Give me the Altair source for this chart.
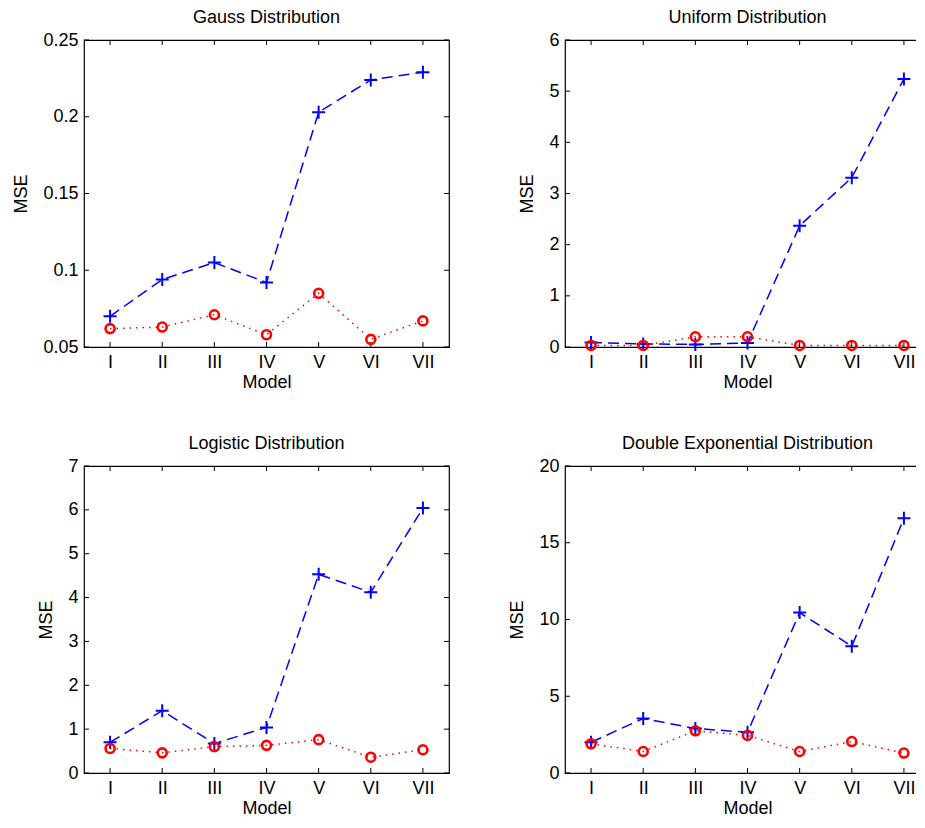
import altair as alt
import pandas as pd

models = ["I", "II", "III", "IV", "V", "VI", "VII"]

gauss_plus = [0.070, 0.094, 0.105, 0.092, 0.203, 0.224, 0.229]
gauss_circ = [0.062, 0.063, 0.071, 0.058, 0.085, 0.055, 0.067]

unif_plus = [0.09, 0.06, 0.05, 0.08, 2.37, 3.31, 5.24]
unif_circ = [0.03, 0.03, 0.20, 0.20, 0.03, 0.03, 0.03]

logis_plus = [0.70, 1.42, 0.67, 1.04, 4.53, 4.12, 6.04]
logis_circ = [0.56, 0.46, 0.60, 0.63, 0.76, 0.36, 0.53]

dexp_plus = [2.0, 3.55, 2.9, 2.65, 10.45, 8.25, 16.6]
dexp_circ = [1.9, 1.4, 2.75, 2.45, 1.4, 2.05, 1.3]

gauss_ticks = [0.05, 0.1, 0.15, 0.2, 0.25]
unif_ticks = [0, 1, 2, 3, 4, 5, 6]
logis_ticks = [0, 1, 2, 3, 4, 5, 6, 7]
dexp_ticks = [0, 5, 10, 15, 20]

W, H = 365, 307
FONT = "Liberation Sans"
PLUS = "M-1,0L1,0M0,-1L0,1"
TL = 5
FS = 18


def panel(title, plus, circ, yticks, fmt):
    idx = list(range(1, len(models) + 1))
    df = pd.DataFrame({"x": idx, "model": models, "plus": plus, "circ": circ})
    ydf = pd.DataFrame({"v": yticks})
    xdf = pd.DataFrame({"x": idx})
    xscale = alt.Scale(domain=[0.5, len(models) + 0.5], nice=False, zero=False)
    yscale = alt.Scale(domain=[yticks[0], yticks[-1]], nice=False, zero=False)
    roman = "[" + ",".join("'%s'" % m for m in models) + "][datum.value - 1]"
    xaxis = alt.Axis(values=idx, labelExpr=roman, title="Model", ticks=False,
                     domain=False, grid=False, labelPadding=6, titlePadding=2)
    yaxis = alt.Axis(values=yticks, format=fmt, title="MSE", ticks=False,
                     domain=False, grid=False, labelPadding=6, titlePadding=12)

    def X(f):
        return alt.X(f, scale=xscale, axis=xaxis)

    def Y(f):
        return alt.Y(f, scale=yscale, axis=yaxis)

    base = alt.Chart(df)
    line_b = base.mark_line(color="#0000ff", strokeWidth=1.5, strokeDash=[11, 6]).encode(
        x=X("x:Q"), y=Y("plus:Q"))
    pt_b = base.mark_point(shape=PLUS, color="#0000ff", size=169, strokeWidth=2,
                           filled=False, opacity=1).encode(x=X("x:Q"), y=Y("plus:Q"))
    line_r = base.mark_line(color="#ff0000", strokeWidth=1.5, strokeDash=[1.5, 5]).encode(
        x=X("x:Q"), y=Y("circ:Q"))
    pt_r = base.mark_point(shape="circle", color="#ff0000", size=81, strokeWidth=2.6,
                           filled=False, opacity=1).encode(x=X("x:Q"), y=Y("circ:Q"))

    yt_l = alt.Chart(ydf).mark_rule(color="black", strokeWidth=1).encode(
        y=Y("v:Q"), x=alt.value(0), x2=alt.value(TL))
    yt_r = alt.Chart(ydf).mark_rule(color="black", strokeWidth=1).encode(
        y=Y("v:Q"), x=alt.value(W - TL), x2=alt.value(W))
    xt_b = alt.Chart(xdf).mark_rule(color="black", strokeWidth=1).encode(
        x=X("x:Q"), y=alt.value(H - TL), y2=alt.value(H))
    xt_t = alt.Chart(xdf).mark_rule(color="black", strokeWidth=1).encode(
        x=X("x:Q"), y=alt.value(0), y2=alt.value(TL))

    return alt.layer(yt_l, yt_r, xt_b, xt_t, line_b, pt_b, line_r, pt_r).properties(
        width=W, height=H,
        title=alt.TitleParams(title, fontSize=FS, fontWeight="normal", font=FONT,
                              color="black", offset=4),
    )


p1 = panel("Gauss Distribution", gauss_plus, gauss_circ, gauss_ticks, ".2~f")
p2 = panel("Uniform Distribution", unif_plus, unif_circ, unif_ticks, "d")
p3 = panel("Logistic Distribution", logis_plus, logis_circ, logis_ticks, "d")
p4 = panel("Double Exponential Distribution", dexp_plus, dexp_circ, dexp_ticks, "d")

chart = alt.concat(p1, p2, p3, p4, columns=2, spacing={"row": 119, "column": 116},
                   bounds="flush").properties(
    padding={"left": 4, "top": 0, "right": -16, "bottom": 0}
).configure(font=FONT).configure_view(
    stroke="black", strokeWidth=1.2
).configure_axis(
    labelFont=FONT, titleFont=FONT, labelFontSize=FS, titleFontSize=FS,
    titleFontWeight="normal", labelColor="black", titleColor="black"
)

chart.save("out.html", embed_options={"renderer": "svg", "actions": False})
